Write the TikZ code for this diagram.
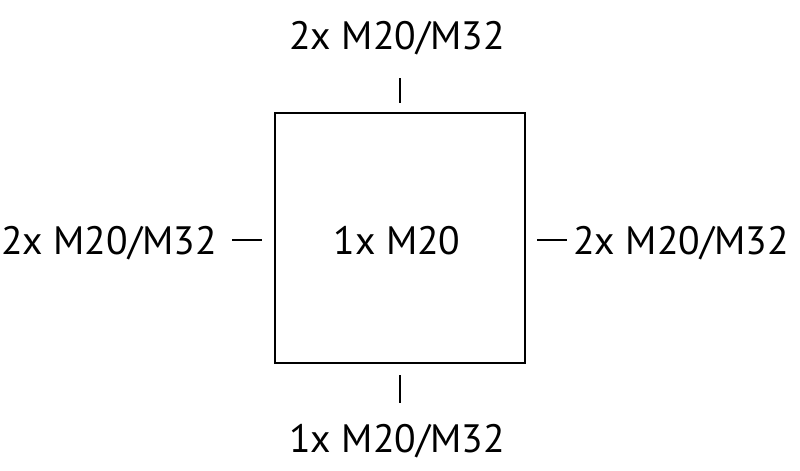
\documentclass[tikz,border=0pt]{standalone}
\usepackage{fontspec}
\setmainfont{PT Sans}
\tikzset{
  lbl/.style={inner sep=0pt, font=\fontsize{19.8}{24}\selectfont},
  tick/.style={line width=1.3pt},
}
\begin{document}
\begin{tikzpicture}[x=0.5pt,y=-0.5pt]
\useasboundingbox (0,0) rectangle (800,471);
\draw[line width=1pt] (275,113) rectangle (525,363);
\node[lbl, anchor=base] (top) at (397,49){2x M20/M32};
\node[lbl, anchor=base] (bot) at (397,452){1x M20/M32};
\node[lbl, anchor=base east] (lft) at (217,255){2x M20/M32};
\node[lbl, anchor=base west] (rgt) at (573,255){2x M20/M32};
\node[lbl, anchor=base] (mid) at (397,255){1x M20};
\coordinate (t1) at (400,78);
\coordinate (t2) at (400,103);
\coordinate (b1) at (400,375);
\coordinate (b2) at (400,403);
\coordinate (l1) at (232,240);
\coordinate (l2) at (262,240);
\coordinate (r1) at (537,240);
\coordinate (r2) at (567,240);
\draw[tick](t1) -- (t2);
\draw[tick](b1) -- (b2);
\draw[tick](l1) -- (l2);
\draw[tick](r1) -- (r2);

\end{tikzpicture}
\end{document}
